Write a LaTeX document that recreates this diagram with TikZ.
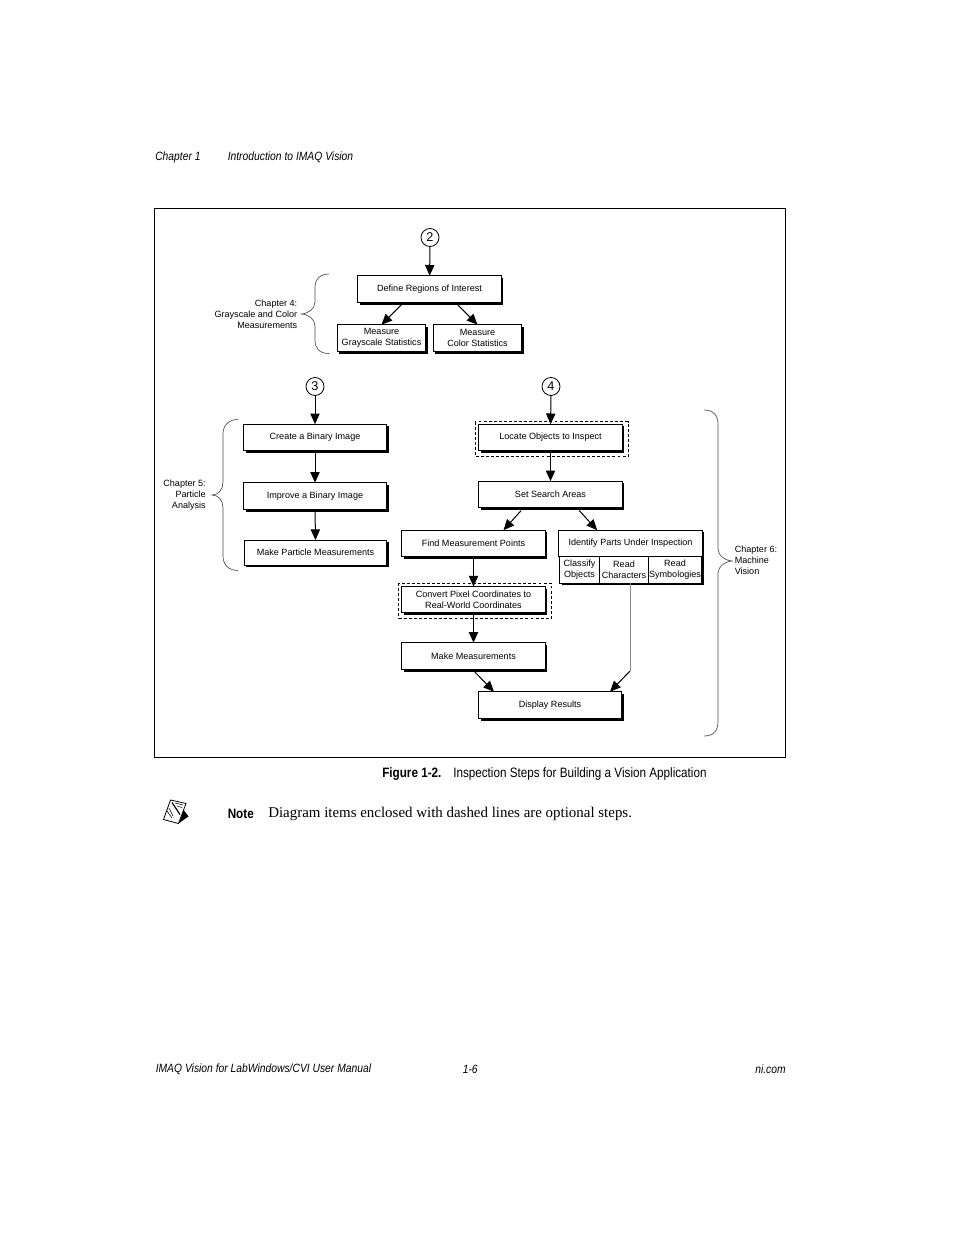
\documentclass[tikz,border=0pt]{standalone}
\usepackage{fontspec}
\setmainfont{Liberation Sans}
\newfontfamily\serfont{Liberation Serif}
\newfontfamily\condfont[FakeStretch=0.86]{Liberation Sans}
\usetikzlibrary{arrows.meta,shadows}
\tikzset{
    stepbox/.style={draw, fill=white, line width=.75pt, inner sep=0pt, outer sep=0pt, align=center,
        minimum width=107.5pt, minimum height=20pt, font=\fontsize{6.8}{8}\selectfont,
        drop shadow={shadow xshift=1.7pt, shadow yshift=-1.7pt, fill=black, opacity=1}},
    cellbox/.style={stepbox, minimum height=20pt},
    stepnum/.style={draw, circle, fill=white, line width=.6pt, minimum size=13.5pt, inner sep=0pt, outer sep=0pt, font=\fontsize{9.5}{10}\selectfont},
    flow/.style={line width=.75pt, -{Triangle[length=8pt,width=7pt]}},
    optbox/.style={line width=.6pt, dash pattern=on 2.2pt off 1.6pt},
    chapbrace/.style={line width=.5pt, black!70},
    chaplabel/.style={align=right, anchor=east, inner sep=0pt, font=\fontsize{6.8}{8.2}\selectfont},
    pagehead/.style={anchor=west, inner sep=0pt, font=\condfont\itshape\fontsize{9}{10}\selectfont}
}
\begin{document}
\begin{tikzpicture}[x=.75pt,y=-.75pt]
    \useasboundingbox (0,0) rectangle (954,1235);
    \fill[white] (0,0) rectangle (954,1235);
    % page header and frame
    \node[pagehead] (headchap) at (155,157.5) {Chapter 1};
    \node[pagehead] (headtitle) at (227.5,157.5) {Introduction to IMAQ Vision};
    \draw[line width=.75pt] (154.5,208.5) rectangle (785.5,757.5);

    % chapter 4
    \node[stepnum] (two) at (430,237.5) {2};
    \node[stepbox] (define) at (429.5,289) {Define Regions of Interest};
    \node[stepbox, minimum width=66.5pt] (gray) at (381.5,338) {Measure\\Grayscale Statistics};
    \node[stepbox, minimum width=66.5pt] (color) at (477.5,338) {Measure\\Color Statistics};
    \draw[flow] (two) -- (define);
    \draw[flow] ([xshift=-21pt,yshift=-1.7pt]define.south) -- (gray.north);
    \draw[flow] ([xshift=21pt,yshift=-1.7pt]define.south) -- (color.north);
    \node[chaplabel] (chapfour) at (297.5,314) {Chapter 4:\\Grayscale and Color\\Measurements};
    \draw[chapbrace] (329,274) .. controls (320,274) and (315,279) .. (315,288) -- (315,302)
        .. controls (315,309) and (308,314) .. (300.5,314)
        .. controls (308,314) and (315,319) .. (315,326) -- (315,340)
        .. controls (315,349) and (320,353.5) .. (329,353.5);

    % chapter 5
    \node[stepnum] (three) at (315,386.5) {3};
    \node[stepbox] (create) at (315,437.5) {Create a Binary Image};
    \node[stepbox] (improve) at (315,496) {Improve a Binary Image};
    \node[stepbox, minimum width=107pt, minimum height=18.75pt] (particle) at (315.5,552.5) {Make Particle Measurements};
    \draw[flow] (three) -- (create);
    \draw[flow] (create.south) -- (improve.north);
    \draw[flow] (improve.south) -- (particle.north);
    \node[chaplabel] (chapfive) at (206,495) {Chapter 5:\\Particle\\Analysis};
    \draw[chapbrace] (238,419.5) .. controls (229,419.5) and (223,425) .. (223,434) -- (223,482)
        .. controls (223,489) and (219,495) .. (212,495)
        .. controls (219,495) and (223,501) .. (223,508) -- (223,556)
        .. controls (223,565) and (229,570.5) .. (238,570.5);

    % chapter 6
    \node[stepnum] (four) at (551,386.5) {4};
    \node[stepbox] (locate) at (550.5,437.5) {Locate Objects to Inspect};
    \node[stepbox] (search) at (550.5,494.5) {Set Search Areas};
    \node[stepbox] (find) at (473.5,543.5) {Find Measurement Points};
    \node[stepbox] (identify) at (630.5,543.5) {Identify Parts Under Inspection};
    \node[cellbox, minimum width=30pt] (classify) at (579.5,569.8) {Classify\\Objects};
    \node[cellbox, minimum width=36.75pt] (readchar) at (624,569.8) {Read\\Characters};
    \node[cellbox, minimum width=39.75pt] (readsym) at (675,569.8) {Read\\Symbologies};
    \node[stepbox, minimum height=19.5pt] (convert) at (473.5,599.5) {Convert Pixel Coordinates to\\Real-World Coordinates};
    \node[stepbox] (measure) at (473.5,656) {Make Measurements};
    \node[stepbox] (display) at (550,705) {Display Results};
    \coordinate (bend) at (630,671);
    \draw[flow] (four) -- (locate);
    \draw[flow] (locate.south) -- (search.north);
    \draw[flow] ([xshift=-22pt,yshift=-2pt]search.south) -- ([xshift=22.5pt]find.north);
    \draw[flow] ([xshift=21.5pt,yshift=-2pt]search.south) -- ([xshift=-25pt]identify.north);
    \draw[flow] (find.south) -- (convert.north);
    \draw[flow] (convert.south) -- (measure.north);
    \draw[flow] ([xshift=1pt,yshift=-2pt]measure.south) -- ([xshift=-42pt]display.north);
    \draw[line width=.75pt, black!45] (readchar.south -| bend) -- (bend);
    \draw[flow] (bend) -- ([xshift=45pt]display.north);
    \draw[optbox] ([shift={(-3.5,-2.5)}]locate.north west) rectangle ([shift={(6,6)}]locate.south east);
    \draw[optbox] ([shift={(-3,-3.5)}]convert.north west) rectangle ([shift={(6,6)}]convert.south east);
    \node[chaplabel, align=left, anchor=west] (chapsix) at (734.5,560.5) {Chapter 6:\\Machine\\Vision};
    \draw[chapbrace] (704,410) .. controls (713,410) and (718,415) .. (718,424) -- (718,549)
        .. controls (718,555) and (725,561) .. (733,561)
        .. controls (725,561) and (718,567) .. (718,573) -- (718,722)
        .. controls (718,731) and (713,736) .. (704,736);

    % caption and note
    \node[anchor=west, inner sep=0pt, font=\condfont\bfseries\fontsize{10.2}{12}\selectfont] (figlabel) at (382,774) {Figure 1-2.};
    \node[anchor=west, inner sep=0pt, font=\condfont\fontsize{10.2}{12}\selectfont] (figtitle) at (453,774) {Inspection Steps for Building a Vision Application};
    \node[anchor=west, inner sep=0pt, font=\condfont\bfseries\fontsize{10.2}{12}\selectfont] (notelabel) at (227.5,814) {Note};
    \node[anchor=west, inner sep=0pt, font=\serfont\fontsize{11.2}{13}\selectfont] (notetext) at (268,814) {Diagram items enclosed with dashed lines are optional steps.};
    % note icon
    \fill (183,809) -- (188.5,816.5) -- (178.5,823.5) -- cycle;
    \draw[line width=.6pt, fill=white] (170.5,800) -- (186,803.5) -- (178.5,823.5) -- (163.5,819.5) -- cycle;
    \draw[line width=.9pt] (172,802.5) -- (180,814.5);
    \draw[line width=.4pt] (175,803) -- (183,805) (177,806) -- (182,807.5) (169,808) -- (173,816) (167,811) -- (172,818);

    % page footer
    \node[pagehead] (footman) at (155.5,1069.5) {IMAQ Vision for LabWindows/CVI User Manual};
    \node[pagehead] (footpage) at (462.5,1069.5) {1-6};
    \node[pagehead, anchor=east] (footsite) at (786,1069.5) {ni.com};
\end{tikzpicture}
\end{document}
